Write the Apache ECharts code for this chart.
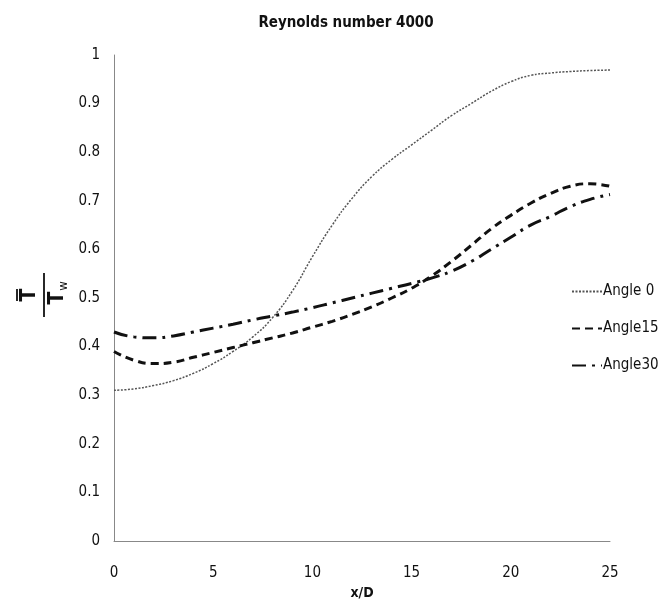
<!DOCTYPE html>
<html><head><meta charset="utf-8">
<script src="https://cdn.jsdelivr.net/npm/echarts@6/dist/echarts.min.js"></script>
<style>html,body{margin:0;padding:0;background:#fff}#c{width:658px;height:612px}</style>
</head><body><div id="c"></div>
<script>
const xValues = [0,1,2,3,4,5,6,7,8,9,10,11,12,13,14,15,16,17,18,19,20,21,22,23,24,25];
const angle0  = [0.310,0.313,0.320,0.330,0.345,0.365,0.390,0.420,0.460,0.515,0.585,0.650,0.705,0.750,0.785,0.815,0.845,0.875,0.900,0.925,0.945,0.958,0.963,0.966,0.968,0.969];
const angle15 = [0.390,0.372,0.365,0.368,0.378,0.388,0.398,0.408,0.418,0.428,0.440,0.452,0.466,0.482,0.500,0.520,0.545,0.575,0.608,0.642,0.670,0.695,0.715,0.730,0.735,0.730];
const angle30 = [0.430,0.420,0.418,0.422,0.430,0.438,0.446,0.455,0.463,0.471,0.480,0.490,0.500,0.510,0.520,0.530,0.541,0.555,0.575,0.600,0.625,0.650,0.668,0.688,0.703,0.713];
const seriesNames = ['Angle 0','Angle15','Angle30'];
const xTicks = [0,5,10,15,20,25];
const yTicks = [0,0.1,0.2,0.3,0.4,0.5,0.6,0.7,0.8,0.9,1];

const FONT = '"DejaVu Sans Condensed", "Liberation Sans Narrow", sans-serif';
const toPairs = arr => xValues.map((x,i)=>[x, arr[i]]);
const chart = echarts.init(document.getElementById('c'), null, {renderer:'canvas'});
chart.setOption({
  animation:false,
  backgroundColor:'#fff',
  title:{text:'Reynolds number 4000', left:341, top:11, textAlign:'center',
    textStyle:{fontFamily:FONT, fontWeight:'bold', fontSize:15, color:'#111'}},
  grid:{left:114, right:48, top:55, bottom:71},
  legend:{orient:'vertical', left:566, top:279, itemGap:22, itemWidth:30, itemHeight:12,
    data:seriesNames, itemStyle:{opacity:0},
    textStyle:{fontFamily:FONT, fontSize:15, color:'#111', padding:[0,0,0,-4]}},
  xAxis:{type:'value', min:0, max:25, interval:5,
    name:'x/D', nameLocation:'middle', nameGap:45,
    nameTextStyle:{fontFamily:FONT, fontWeight:'bold', fontSize:14, color:'#111'},
    axisLine:{lineStyle:{color:'#888', width:1}}, axisTick:{show:false},
    axisLabel:{fontFamily:FONT, fontSize:15, color:'#111', margin:25,
      formatter:v=>xTicks.includes(v)?String(v):''},
    splitLine:{show:false}},
  yAxis:{type:'value', min:0, max:1, interval:0.1,
    axisLine:{show:true, lineStyle:{color:'#888', width:1}}, axisTick:{show:false},
    axisLabel:{fontFamily:FONT, fontSize:15, color:'#111', margin:14,
      formatter:v=>{const t=yTicks.find(y=>Math.abs(y-v)<1e-9);return t===undefined?'':String(Math.round(t*10)/10);}},
    splitLine:{show:false}},
  graphic:[{
    type:'group', x:44, y:295, rotation:Math.PI/2,
    children:[
      {type:'text', x:0, y:-14, style:{text:'T', font:'bold 21px '+FONT, fill:'#111', textAlign:'center', textVerticalAlign:'middle'}},
      {type:'line', shape:{x1:-6,y1:-27,x2:6,y2:-27}, style:{stroke:'#111', lineWidth:1.8}},
      {type:'line', shape:{x1:-22,y1:0,x2:22,y2:0}, style:{stroke:'#111', lineWidth:1.8}},
      {type:'text', x:-3, y:14, style:{text:'T', font:'bold 21px '+FONT, fill:'#111', textAlign:'center', textVerticalAlign:'middle'}},
      {type:'text', x:9, y:20, style:{text:'w', font:'13px '+FONT, fill:'#111', textAlign:'center', textVerticalAlign:'middle'}}
    ]
  }],
  series:[
    {name:seriesNames[0], type:'line', smooth:true, symbol:'none', data:toPairs(angle0),
      lineStyle:{color:'#555', width:1.5, type:[2,1.5]}, itemStyle:{color:'#555'}},
    {name:seriesNames[1], type:'line', smooth:true, symbol:'none', data:toPairs(angle15),
      lineStyle:{color:'#111', width:3, type:[8,5]}, itemStyle:{color:'#111'}},
    {name:seriesNames[2], type:'line', smooth:true, symbol:'none', data:toPairs(angle30),
      lineStyle:{color:'#111', width:3, type:[14,6,3,6]}, itemStyle:{color:'#111'}}
  ]
});
</script></body></html>
